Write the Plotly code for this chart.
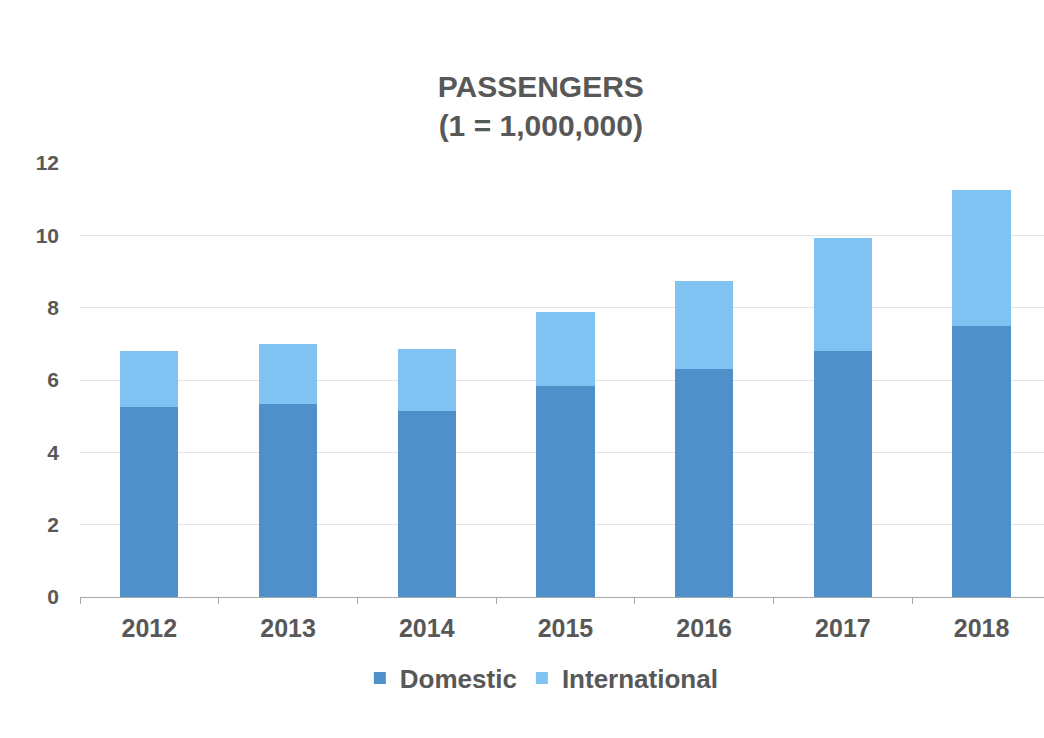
import plotly.graph_objects as go

years = ["2012", "2013", "2014", "2015", "2016", "2017", "2018"]
domestic = [5.25, 5.33, 5.14, 5.83, 6.30, 6.80, 7.49]
international = [1.55, 1.67, 1.71, 2.04, 2.43, 3.14, 3.75]
y_ticks = [0, 2, 4, 6, 8, 10, 12]

TXT = "#585858"
FONT = "Liberation Sans, Arial, sans-serif"

fig = go.Figure()
fig.add_trace(go.Bar(x=years, y=domestic, name="Domestic",
                     marker=dict(color="#4f8fca", line=dict(width=0))))
fig.add_trace(go.Bar(x=years, y=international, name="International",
                     marker=dict(color="#80c3f3", line=dict(width=0))))

fig.update_layout(
    width=1044, height=738,
    barmode="stack", bargap=0.58,
    paper_bgcolor="white", plot_bgcolor="white",
    margin=dict(l=80, r=0, t=163, b=141),
    font=dict(family=FONT, color=TXT, weight="bold"),
    title=dict(text="PASSENGERS<br>(1 = 1,000,000)",
               x=0.518, xanchor="center", xref="container",
               y=0.868, yanchor="top", yref="container",
               font=dict(size=30, color=TXT, family=FONT, weight="bold")),
    legend=dict(orientation="h", x=0.519, xanchor="center", xref="container",
                y=0.081, yanchor="middle", yref="container",
                font=dict(size=26, color=TXT, family=FONT, weight="bold"),
                itemwidth=30, traceorder="normal", bgcolor="rgba(0,0,0,0)"),
    xaxis=dict(type="category", range=[-0.5, 6.45],
               showline=True, linecolor="#a8a8a8", linewidth=1,
               ticks="outside", ticklen=6, tickcolor="#a8a8a8", tickson="boundaries",
               tickfont=dict(size=25, color=TXT, family=FONT, weight="bold"),
               ticklabelstandoff=9, showgrid=False, fixedrange=True),
    yaxis=dict(range=[0, 12], tickvals=y_ticks,
               showgrid=True, gridcolor="#e2e2e2", gridwidth=1,
               zeroline=False, ticks="", ticklabelstandoff=20,
               tickfont=dict(size=21, color=TXT, family=FONT, weight="bold")),
)

fig.write_html("out.html")
